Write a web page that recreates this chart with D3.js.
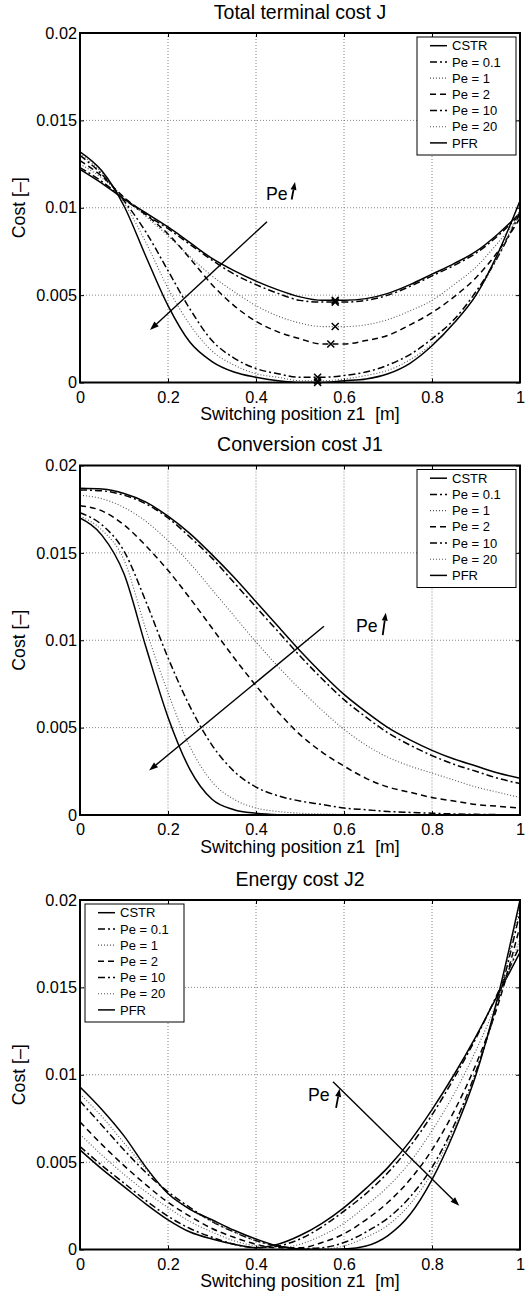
<!DOCTYPE html>
<html>
<head>
<meta charset="utf-8">
<script src="https://cdn.jsdelivr.net/npm/d3@7"></script>
<style>
  body { margin: 0; background: #fff; }
  text { font-family: "Liberation Sans", Arial, Helvetica, sans-serif; fill: #000; }
</style>
</head>
<body>
<script>
/* values */
var zs = [0,0.05,0.1,0.15,0.2,0.25,0.3,0.35,0.4,0.45,0.5,0.55,0.6,0.65,0.7,0.75,0.8,0.85,0.9,0.95,1];
var seriesNames = ["CSTR", "Pe = 0.1", "Pe = 1", "Pe = 2", "Pe = 10", "Pe = 20", "PFR"];
var titles = ["Total terminal cost J", "Conversion cost J1", "Energy cost J2"];
var xTicks = [0, 0.2, 0.4, 0.6, 0.8, 1];
var yTicks = [0, 0.005, 0.01, 0.015, 0.02];

var totalCost = [
  [0.0122,0.0114,0.0105,0.0097,0.0089,0.0080,0.0071,0.0064,0.0058,0.0053,0.0049,0.0047,0.0047,0.0048,0.0051,0.0056,0.0062,0.0068,0.0075,0.0085,0.0097],
  [0.0123,0.0115,0.0105,0.0096,0.0088,0.0079,0.0070,0.0062,0.0056,0.0051,0.0047,0.0046,0.0046,0.0047,0.0050,0.0055,0.0061,0.0067,0.0074,0.0084,0.0096],
  [0.0125,0.0117,0.0106,0.0095,0.0084,0.0072,0.0061,0.0052,0.0044,0.0038,0.0034,0.0032,0.0032,0.0033,0.0036,0.0041,0.0047,0.0056,0.0066,0.0080,0.0095],
  [0.0127,0.0118,0.0106,0.0096,0.0085,0.0071,0.0056,0.0044,0.0035,0.0029,0.0025,0.0022,0.0022,0.0024,0.0027,0.0033,0.0040,0.0049,0.0060,0.0075,0.0094],
  [0.0130,0.0119,0.0104,0.0086,0.0064,0.0042,0.0024,0.0014,0.0008,0.0005,0.0003,0.0003,0.0004,0.0006,0.0010,0.0016,0.0025,0.0036,0.0052,0.0072,0.0097],
  [0.0131,0.0120,0.0103,0.0080,0.0054,0.0033,0.0018,0.0010,0.0005,0.0003,0.0001,0.0001,0.0002,0.0004,0.0007,0.0013,0.0022,0.0034,0.0050,0.0072,0.0099],
  [0.0132,0.0121,0.0101,0.0072,0.0044,0.0023,0.0012,0.0006,0.0003,0.0001,0.0000,0.0000,0.0001,0.0002,0.0005,0.0011,0.0021,0.0034,0.0050,0.0074,0.0104]
];
var conversionCost = [
  [0.0187,0.01865,0.0184,0.0179,0.0171,0.0161,0.0149,0.0136,0.0122,0.0108,0.0094,0.0081,0.0069,0.0059,0.0050,0.0043,0.0037,0.0032,0.0028,0.0024,0.0021],
  [0.0186,0.01855,0.0183,0.0178,0.0170,0.0159,0.0147,0.0133,0.0119,0.0105,0.0091,0.0078,0.0066,0.0056,0.0047,0.0040,0.0034,0.0029,0.0025,0.0021,0.0018],
  [0.0183,0.0181,0.0176,0.0168,0.0157,0.0144,0.0129,0.0114,0.0099,0.0085,0.0072,0.0060,0.0049,0.0040,0.0033,0.0028,0.0024,0.0020,0.0016,0.0013,0.0010],
  [0.0177,0.0174,0.0166,0.0154,0.0140,0.0124,0.0107,0.0090,0.0074,0.0059,0.0046,0.0036,0.0028,0.0021,0.0016,0.0013,0.0010,0.0008,0.0006,0.0005,0.0004],
  [0.0173,0.0166,0.0151,0.0122,0.0090,0.0062,0.0040,0.0025,0.0016,0.0011,0.0008,0.0006,0.0004,0.0003,0.0002,0.00015,0.0001,0.00006,0.00004,0.00002,0.00001],
  [0.0171,0.0163,0.0146,0.0106,0.0070,0.0039,0.0019,0.0009,0.0004,0.0002,0.0001,0.00006,0.00004,0.00002,0.00001,0,0,0,0,0,0],
  [0.0170,0.0160,0.0138,0.0096,0.0056,0.0026,0.0009,0.0003,0.0001,0.00002,0,0,0,0,0,0,0,0,0,0,0]
];
var energyCost = [
  [0.0057,0.0046,0.0036,0.0026,0.0017,0.0010,0.0006,0.0003,0.0001,0.0003,0.0008,0.0015,0.0024,0.0035,0.0047,0.0062,0.0080,0.0100,0.0122,0.0146,0.0170],
  [0.0059,0.0048,0.0038,0.0028,0.0019,0.0012,0.0007,0.0003,0.0001,0.0002,0.0006,0.0013,0.0022,0.0032,0.0044,0.0059,0.0077,0.0098,0.0121,0.0147,0.0174],
  [0.0066,0.0054,0.0043,0.0033,0.0024,0.0016,0.0010,0.0005,0.0002,0.0001,0.0003,0.0008,0.0015,0.0025,0.0036,0.0050,0.0068,0.0089,0.0114,0.0143,0.0178],
  [0.0073,0.0060,0.0048,0.0037,0.0027,0.0019,0.0012,0.0007,0.0003,0.0001,0.0001,0.0004,0.0009,0.0017,0.0027,0.0040,0.0057,0.0079,0.0106,0.0140,0.0185],
  [0.0085,0.0071,0.0057,0.0044,0.0033,0.0024,0.0016,0.0010,0.0005,0.0002,0.00005,0.0001,0.0004,0.0010,0.0018,0.0030,0.0047,0.0071,0.0102,0.0142,0.0193],
  [0.0089,0.0076,0.0061,0.0046,0.0032,0.0023,0.0016,0.0010,0.0005,0.0002,0.00003,0.00003,0.0002,0.0007,0.0014,0.0026,0.0044,0.0069,0.0101,0.0143,0.0197],
  [0.0093,0.0080,0.0065,0.0047,0.0032,0.0023,0.0017,0.0011,0.0006,0.0002,0.00003,0,0.00003,0.0002,0.0008,0.0020,0.0040,0.0067,0.0100,0.0145,0.0200]
];

/* optimal switching positions (x markers on J) */
var optZ = [0.58, 0.58, 0.58, 0.57, 0.54, 0.54, 0.54];
var optJ = [0.0047, 0.0046, 0.0032, 0.0022, 0.0003, 0.0001, 0.0000];

/* "Pe" arrows, in data units: [z0, v0, z1, v1] */
var bigArrows = [[0.425,0.0092,0.159,0.0030], [0.5545,0.0108,0.157,0.00254], [0.575,0.0096,0.862,0.0025]];
var peLabels = [[0.4227,0.01047], [0.627,0.01049], [0.518,0.0085]];
var peArrows = [[0.4811,0.01047,0.4886,0.01148], [0.688,0.0103,0.695,0.01158], [0.582,0.0081,0.59,0.0092]];

/* layout and line styles */
var W = 529, H = 1297;
var left = 80, right = 520;
var tops = [33, 465.5, 900], ph = 349.5;
var legendX = [417, 417, 85];
var dashes = [null, "7,3,2,3", "1,2", "6,4", "7,3,2,3", "1,2", null];
var strokes = ["#000", "#000", "#555", "#000", "#000", "#555", "#000"];
var widths = [1.5, 1.5, 1.1, 1.5, 1.5, 1.1, 1.5];
var font = "'Liberation Sans', Arial, Helvetica, sans-serif";

var svg = d3.select("body").append("svg")
    .attr("width", W).attr("height", H)
    .style("background", "#fff");

var x = d3.scaleLinear().domain([0, 1]).range([left, right]);
var panels = [totalCost, conversionCost, energyCost];

function arrow(g, p0, p1, headLen, headW, sw) {
  var dx = p1[0] - p0[0], dy = p1[1] - p0[1];
  var L = Math.sqrt(dx * dx + dy * dy), ux = dx / L, uy = dy / L;
  var bx = p1[0] - ux * headLen, by = p1[1] - uy * headLen;
  g.append("line").attr("x1", p0[0]).attr("y1", p0[1]).attr("x2", bx).attr("y2", by)
    .attr("stroke", "#000").attr("stroke-width", sw);
  g.append("path")
    .attr("d", "M" + p1[0] + "," + p1[1] +
      "L" + (bx - uy * headW) + "," + (by + ux * headW) +
      "L" + (bx + uy * headW) + "," + (by - ux * headW) + "Z")
    .attr("fill", "#000");
}

panels.forEach(function (data, pi) {
  var top = tops[pi], bottom = top + ph;
  var y = d3.scaleLinear().domain([0, 0.02]).range([bottom, top]);
  var g = svg.append("g");

  /* grid */
  g.selectAll(".gx").data(xTicks.slice(1, -1)).enter().append("line")
    .attr("x1", function (d) { return x(d); }).attr("x2", function (d) { return x(d); })
    .attr("y1", top).attr("y2", bottom)
    .attr("stroke", "#777").attr("stroke-width", 0.9).attr("stroke-dasharray", "1,2");
  g.selectAll(".gy").data(yTicks.slice(1, -1)).enter().append("line")
    .attr("y1", function (d) { return y(d); }).attr("y2", function (d) { return y(d); })
    .attr("x1", left).attr("x2", right)
    .attr("stroke", "#777").attr("stroke-width", 0.9).attr("stroke-dasharray", "1,2");

  /* curves */
  svg.append("clipPath").attr("id", "clip" + pi).append("rect")
    .attr("x", left).attr("y", top).attr("width", right - left).attr("height", ph);
  var line = d3.line()
    .x(function (d, i) { return x(zs[i]); })
    .y(function (d) { return y(d); })
    .curve(d3.curveMonotoneX);
  var cg = g.append("g").attr("clip-path", "url(#clip" + pi + ")");
  data.forEach(function (row, si) {
    cg.append("path").attr("d", line(row))
      .attr("fill", "none")
      .attr("stroke", strokes[si])
      .attr("stroke-width", widths[si])
      .attr("stroke-dasharray", dashes[si]);
  });

  /* optimum markers */
  if (pi === 0) {
    optZ.forEach(function (z, i) {
      var cx = x(z), cy = y(optJ[i]), s = 3.5;
      g.append("path")
        .attr("d", "M" + (cx - s) + "," + (cy - s) + "L" + (cx + s) + "," + (cy + s) +
          "M" + (cx - s) + "," + (cy + s) + "L" + (cx + s) + "," + (cy - s))
        .attr("stroke", "#000").attr("stroke-width", 1.5);
    });
  }

  /* axes */
  var ax = g.append("g").attr("transform", "translate(0," + bottom + ")")
    .call(d3.axisBottom(x).tickValues(xTicks).tickSize(-4).tickPadding(8.5)
      .tickFormat(function (d) { return d3.format("")(d); }));
  g.append("g").attr("transform", "translate(0," + top + ")")
    .call(d3.axisTop(x).tickValues(xTicks).tickSize(-4).tickFormat(""));
  var ay = g.append("g").attr("transform", "translate(" + left + ",0)")
    .call(d3.axisLeft(y).tickValues(yTicks).tickSize(-4).tickPadding(3)
      .tickFormat(function (d) { return d3.format("")(+d.toFixed(3)); }));
  g.append("g").attr("transform", "translate(" + right + ",0)")
    .call(d3.axisRight(y).tickValues(yTicks).tickSize(-4).tickFormat(""));
  g.selectAll(".domain").remove();
  g.selectAll(".tick line").attr("stroke", "#000").attr("stroke-width", 1);
  ax.selectAll("text").style("font-family", font).style("font-size", "16.3px");
  ay.selectAll("text").style("font-family", font).style("font-size", "16.3px");

  g.append("rect").attr("x", left).attr("y", top).attr("width", right - left).attr("height", ph)
    .attr("fill", "none").attr("stroke", "#000").attr("stroke-width", 2);

  /* labels */
  g.append("text").attr("x", (left + right) / 2).attr("y", top - 14.5)
    .attr("text-anchor", "middle").style("font-size", "19.5px").text(titles[pi]);
  g.append("text").attr("x", (left + right) / 2).attr("y", bottom + 37.7)
    .attr("text-anchor", "middle").style("font-size", "17.7px")
    .attr("xml:space", "preserve").style("white-space", "pre")
    .text("Switching position z1  [m]");
  g.append("text")
    .attr("transform", "translate(25," + (top + ph / 2) + ") rotate(-90)")
    .attr("text-anchor", "middle").style("font-size", "17.7px").text("Cost [\u2013]");

  /* Pe arrows */
  var a = bigArrows[pi];
  arrow(g, [x(a[0]), y(a[1])], [x(a[2]), y(a[3])], 9, 3.2, 1.4);
  var pl = peLabels[pi];
  g.append("text").attr("x", x(pl[0])).attr("y", y(pl[1]))
    .style("font-size", "17.7px").text("Pe");
  var pa = peArrows[pi];
  arrow(g, [x(pa[0]), y(pa[1])], [x(pa[2]), y(pa[3])], 8, 3, 1.8);

  /* legend */
  var lx = legendX[pi], ly = top + 4, lh = 118, lw = 99;
  var lg = g.append("g");
  lg.append("rect").attr("x", lx).attr("y", ly).attr("width", lw).attr("height", lh)
    .attr("fill", "#fff").attr("stroke", "#000").attr("stroke-width", 1);
  seriesNames.forEach(function (name, si) {
    var ey = ly + 8.7 + si * 16.2;
    lg.append("line").attr("x1", lx + 13).attr("x2", lx + 30).attr("y1", ey).attr("y2", ey)
      .attr("stroke", strokes[si]).attr("stroke-width", widths[si])
      .attr("stroke-dasharray", dashes[si]);
    lg.append("text").attr("x", lx + 35).attr("y", ey).attr("dy", "0.36em")
      .style("font-size", "13px").text(name);
  });
});
</script>
</body>
</html>
